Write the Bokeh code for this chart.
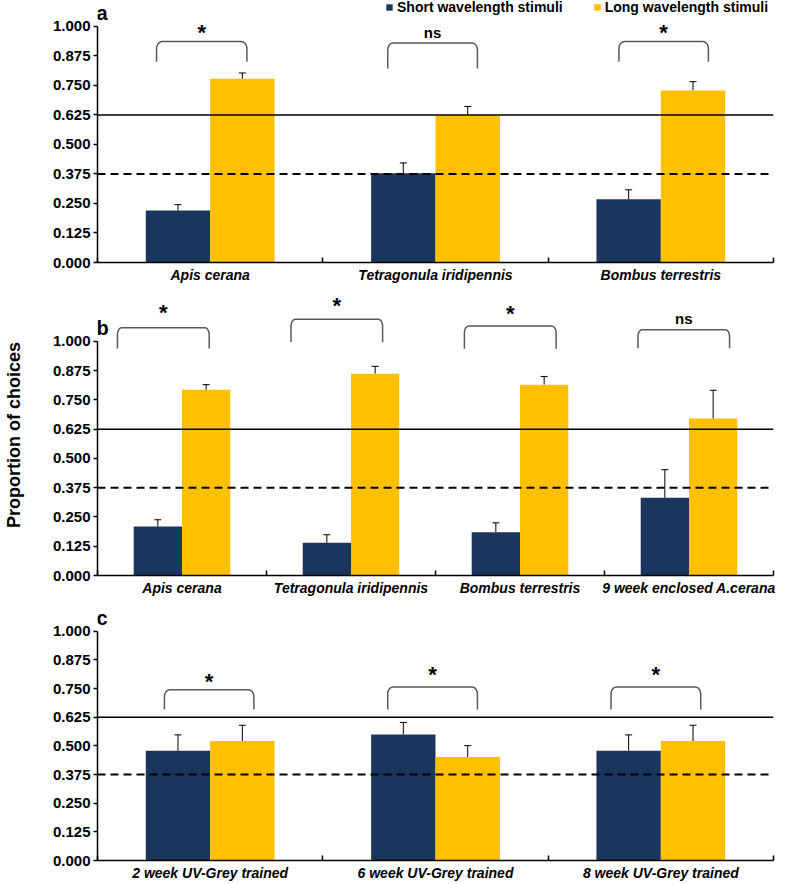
import numpy as np
from bokeh.plotting import figure
from bokeh.models import (FixedTicker, NumeralTickFormatter, Span, Whisker, ColumnDataSource,
                          TeeHead, Legend, LegendItem, Range1d)
from bokeh.layouts import column
from bokeh.embed import file_html
from bokeh.resources import INLINE
from bokeh.core.properties import value

NAVY = "#1B365D"
GOLD = "#FFC000"
FONT = "Liberation Sans"

short_label = "Short wavelength stimuli"
long_label = "Long wavelength stimuli"
y_ticks = [0.0, 0.125, 0.25, 0.375, 0.5, 0.625, 0.75, 0.875, 1.0]
upper_line = 0.625
lower_line = 0.375

# ---- panel a ----
a_cats = ["Apis cerana", "Tetragonula iridipennis", "Bombus terrestris"]
a_short = [0.220, 0.378, 0.268]
a_short_se = [0.025, 0.044, 0.040]
a_long = [0.778, 0.623, 0.729]
a_long_se = [0.025, 0.038, 0.037]
a_sig = ["*", "ns", "*"]
a_br_x0 = [0.262, 1.288, 2.314]
a_br_x1 = [0.663, 1.686, 2.711]
a_br_top = [0.936, 0.930, 0.936]
a_br_bot = [0.850, 0.822, 0.850]
a_sig_y = [0.983, 0.975, 0.983]

# ---- panel b ----
b_cats = ["Apis cerana", "Tetragonula iridipennis", "Bombus terrestris", "9 week enclosed A.cerana"]
b_short = [0.209, 0.140, 0.185, 0.332]
b_short_se = [0.029, 0.034, 0.040, 0.120]
b_long = [0.793, 0.862, 0.815, 0.670]
b_long_se = [0.022, 0.031, 0.035, 0.121]
b_sig = ["*", "*", "*", "ns"]
b_br_x0 = [0.118, 1.145, 2.171, 3.198]
b_br_x1 = [0.661, 1.687, 2.714, 3.740]
b_br_top = [1.058, 1.094, 1.065, 1.050]
b_br_bot = [0.969, 0.997, 0.968, 0.970]
b_sig_y = [1.132, 1.161, 1.129, 1.097]

# ---- panel c ----
c_cats = ["2 week UV-Grey trained", "6 week UV-Grey trained", "8 week UV-Grey trained"]
c_short = [0.479, 0.550, 0.479]
c_short_se = [0.069, 0.052, 0.069]
c_long = [0.521, 0.451, 0.521]
c_long_se = [0.069, 0.050, 0.069]
c_sig = ["*", "*", "*"]
c_br_x0 = [0.297, 1.288, 2.279]
c_br_x1 = [0.694, 1.686, 2.677]
c_br_top = [0.745, 0.757, 0.757]
c_br_bot = [0.659, 0.659, 0.659]
c_sig_y = [0.790, 0.820, 0.820]


def bracket_path(x0, x1, top, bot, rx, ry):
    t = np.linspace(0, np.pi / 2, 8)
    lx = x0 + rx * (1 - np.cos(t))
    ly = top - ry + ry * np.sin(t)
    rxs = x1 - rx + rx * np.sin(t)
    rys = top - ry + ry * np.cos(t)
    xs = [x0] + list(lx) + list(rxs) + [x1]
    ys = [bot] + list(ly) + list(rys) + [bot]
    return xs, ys


def make_panel(cats, short, short_se, long_, long_se, sig, bx0, bx1, btop, bbot, sy,
               letter, yend, height, border_bottom, border_right, ylabel=None, legend=False):
    n = len(cats)
    p = figure(width=786, height=height, x_range=Range1d(0, n), y_range=Range1d(0, yend),
               output_backend="svg", toolbar_location=None,
               min_border_left=95, min_border_right=border_right,
               min_border_top=0, min_border_bottom=border_bottom)
    p.outline_line_color = None
    p.xgrid.visible = False
    p.ygrid.visible = False
    p.background_fill_color = "white"

    w = 1 / 3.5
    centers = np.arange(n) + 0.5
    src = ColumnDataSource(dict(
        xs=centers - w / 2, xl=centers + w / 2,
        s=short, l=long_,
        s_up=np.array(short) + np.array(short_se),
        l_up=np.array(long_) + np.array(long_se)))
    r1 = p.vbar(x="xs", top="s", width=w, fill_color=NAVY, line_color=None, source=src)
    r2 = p.vbar(x="xl", top="l", width=w, fill_color=GOLD, line_color=None, source=src)

    for base, low, up in (("xs", "s", "s_up"), ("xl", "l", "l_up")):
        wk = Whisker(source=src, base=base, lower=low, upper=up, line_color="black",
                     line_width=1, lower_head=None,
                     upper_head=TeeHead(size=7, line_color="black", line_width=1))
        p.add_layout(wk)

    p.add_layout(Span(location=upper_line, dimension="width", line_color="black", line_width=1.5))
    p.add_layout(Span(location=lower_line, dimension="width", line_color="black",
                      line_width=2, line_dash="8 5"))

    bxs, bys = [], []
    for x0, x1, t, b in zip(bx0, bx1, btop, bbot):
        xx, yy = bracket_path(x0, x1, t, b, 0.025, 0.03)
        bxs.append(xx)
        bys.append(yy)
    p.multi_line(xs=bxs, ys=bys, line_color="#5a5a5a", line_width=1.5)

    mid = (np.array(bx0) + np.array(bx1)) / 2
    star_x = [m for m, s in zip(mid, sig) if s == "*"]
    star_y = [y for y, s in zip(sy, sig) if s == "*"]
    ns_x = [m for m, s in zip(mid, sig) if s != "*"]
    ns_y = [y for y, s in zip(sy, sig) if s != "*"]
    ns_t = [s for s in sig if s != "*"]
    if star_x:
        p.text(x=star_x, y=star_y, text=["*"] * len(star_x), text_align="center",
               text_baseline="alphabetic", y_offset=2, text_font=value(FONT),
               text_font_style="bold", text_font_size="22px", text_color="black")
    if ns_x:
        p.text(x=ns_x, y=ns_y, text=ns_t, text_align="center", text_baseline="middle",
               text_font=value(FONT), text_font_style="bold", text_font_size="15px",
               text_color="black")

    p.text(x=[0], y=[1.057], text=[letter], text_align="left", text_baseline="middle",
           x_offset=-1, text_font=value(FONT), text_font_style="bold",
           text_font_size="20px", text_color="black")

    # axes
    xa = p.xaxis[0]
    xa.ticker = FixedTicker(ticks=list(centers), minor_ticks=list(range(n + 1)))
    xa.major_label_overrides = {float(c): lab for c, lab in zip(centers, cats)}
    xa.major_tick_in = 0
    xa.major_tick_out = 0
    xa.minor_tick_in = 5
    xa.minor_tick_out = 0
    xa.minor_tick_line_color = "black"
    xa.minor_tick_line_width = 1.5
    xa.axis_line_color = "black"
    xa.axis_line_width = 1.5
    xa.major_label_standoff = 4
    xa.major_label_text_font = FONT
    xa.major_label_text_font_style = "bold italic"
    xa.major_label_text_font_size = "14px"
    xa.major_label_text_color = "black"

    ya = p.yaxis[0]
    ya.ticker = FixedTicker(ticks=y_ticks)
    ya.formatter = NumeralTickFormatter(format="0.000")
    ya.bounds = (0, 1)
    ya.major_tick_in = 0
    ya.major_tick_out = 4
    ya.minor_tick_in = 0
    ya.minor_tick_out = 0
    ya.major_tick_line_color = "black"
    ya.major_tick_line_width = 1.5
    ya.axis_line_color = "black"
    ya.axis_line_width = 1.5
    ya.major_label_standoff = 3
    ya.major_label_text_font = FONT
    ya.major_label_text_font_style = "bold"
    ya.major_label_text_font_size = "15px"
    ya.major_label_text_color = "black"
    if ylabel:
        ya.axis_label = ylabel
        ya.axis_label_text_font = FONT
        ya.axis_label_text_font_style = "bold"
        ya.axis_label_text_font_size = "18px"
        ya.axis_label_text_color = "black"
        ya.axis_label_standoff = 26

    if legend:
        frame_h = height - border_bottom
        lg = Legend(items=[LegendItem(label=short_label, renderers=[r1]),
                           LegendItem(label=long_label, renderers=[r2])],
                    orientation="horizontal", location=(288, frame_h - 15),
                    glyph_width=8, glyph_height=8, label_standoff=4, spacing=30,
                    padding=0, margin=0, label_height=14,
                    label_text_font=FONT, label_text_font_style="bold",
                    label_text_font_size="14px", label_text_color="black",
                    border_line_alpha=0, background_fill_alpha=0)
        p.add_layout(lg)
    return p


pa = make_panel(a_cats, a_short, a_short_se, a_long, a_long_se, a_sig, a_br_x0, a_br_x1,
                a_br_top, a_br_bot, a_sig_y, "a", 1.110, 294, 32, 3, legend=True)
pb = make_panel(b_cats, b_short, b_short_se, b_long, b_long_se, b_sig, b_br_x0, b_br_x1,
                b_br_top, b_br_bot, b_sig_y, "b", 1.2, 312, 31, 13,
                ylabel="Proportion of choices")
pc = make_panel(c_cats, c_short, c_short_se, c_long, c_long_se, c_sig, c_br_x0, c_br_x1,
                c_br_top, c_br_bot, c_sig_y, "c", 1.108, 277, 20, 3)

layout = column(pa, pb, pc, spacing=0)
open("out.html", "w").write(file_html(layout, INLINE))
